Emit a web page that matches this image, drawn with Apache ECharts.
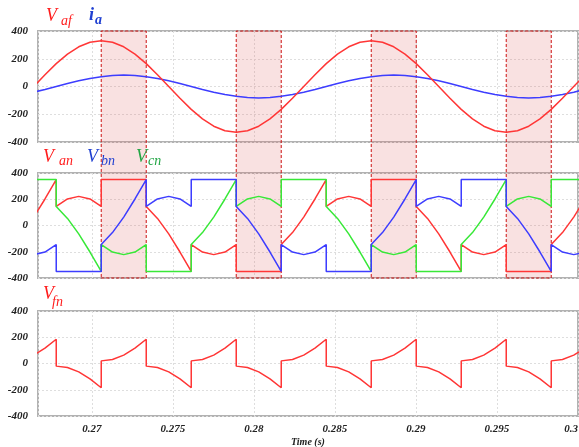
<!DOCTYPE html>
<html>
<head>
<meta charset="utf-8">
<script src="https://cdn.jsdelivr.net/npm/echarts@6/dist/echarts.min.js"></script>
<style>
html,body{margin:0;padding:0;background:#fff;}
#chart{width:579px;height:447px;}
</style>
</head>
<body>
<div id="chart"></div>
<script>
// Sample times (s); sector boundaries appear twice to draw the vertical switching edges
const timeS = [
  0.265014, 0.265709, 0.266403, 0.267098, 0.267792,
  0.267792, 0.268487, 0.269181, 0.269876, 0.27057,
  0.27057, 0.271264, 0.271959, 0.272653, 0.273348,
  0.273348, 0.274042, 0.274737, 0.275431, 0.276126,
  0.276126, 0.27682, 0.277514, 0.278209, 0.278903,
  0.278903, 0.279598, 0.280292, 0.280987, 0.281681,
  0.281681, 0.282376, 0.28307, 0.283764, 0.284459,
  0.284459, 0.285153, 0.285848, 0.286542, 0.287237,
  0.287237, 0.287931, 0.288626, 0.28932, 0.290014,
  0.290014, 0.290709, 0.291403, 0.292098, 0.292792,
  0.292792, 0.293487, 0.294181, 0.294876, 0.29557,
  0.29557, 0.296264, 0.296959, 0.297653, 0.298348,
  0.298348, 0.299042, 0.299737, 0.300431, 0.301126
];
const vaf = [
  -165, -85, 0, 85, 165,
  165, 233, 286, 319, 330,
  330, 319, 286, 233, 165,
  165, 85, 0, -85, -165,
  -165, -233, -286, -319, -330,
  -330, -319, -286, -233, -165,
  -165, -85, 0, 85, 165,
  165, 233, 286, 319, 330,
  330, 319, 286, 233, 165,
  165, 85, 0, -85, -165,
  -165, -233, -286, -319, -330,
  -330, -319, -286, -233, -165,
  -165, -85, 0, 85, 165
];
const ia = [
  -71, -58, -41, -21, 0,
  0, 21, 41, 58, 71,
  71, 79, 82, 79, 71,
  71, 58, 41, 21, 0,
  0, -21, -41, -58, -71,
  -71, -79, -82, -79, -71,
  -71, -58, -41, -21, 0,
  0, 21, 41, 58, 71,
  71, 79, 82, 79, 71,
  71, 58, 41, 21, 0,
  0, -21, -41, -58, -71,
  -71, -79, -82, -79, -71,
  -71, -58, -41, -21, 0
];
const van = [
  -145, -54, 64, 202, 350,
  145, 202, 222, 202, 145,
  350, 350, 350, 350, 350,
  145, 54, -64, -202, -350,
  -145, -202, -222, -202, -145,
  -350, -350, -350, -350, -350,
  -145, -54, 64, 202, 350,
  145, 202, 222, 202, 145,
  350, 350, 350, 350, 350,
  145, 54, -64, -202, -350,
  -145, -202, -222, -202, -145,
  -350, -350, -350, -350, -350,
  -145, -54, 64, 202, 350
];
const vbn = [
  -145, -202, -222, -202, -145,
  -350, -350, -350, -350, -350,
  -145, -54, 64, 202, 350,
  145, 202, 222, 202, 145,
  350, 350, 350, 350, 350,
  145, 54, -64, -202, -350,
  -145, -202, -222, -202, -145,
  -350, -350, -350, -350, -350,
  -145, -54, 64, 202, 350,
  145, 202, 222, 202, 145,
  350, 350, 350, 350, 350,
  145, 54, -64, -202, -350,
  -145, -202, -222, -202, -145
];
const vcn = [
  350, 350, 350, 350, 350,
  145, 54, -64, -202, -350,
  -145, -202, -222, -202, -145,
  -350, -350, -350, -350, -350,
  -145, -54, 64, 202, 350,
  145, 202, 222, 202, 145,
  350, 350, 350, 350, 350,
  145, 54, -64, -202, -350,
  -145, -202, -222, -202, -145,
  -350, -350, -350, -350, -350,
  -145, -54, 64, 202, 350,
  145, 202, 222, 202, 145,
  350, 350, 350, 350, 350
];
const vfn = [
  20, 31, 64, 117, 185,
  -20, -31, -64, -117, -185,
  20, 31, 64, 117, 185,
  -20, -31, -64, -117, -185,
  20, 31, 64, 117, 185,
  -20, -31, -64, -117, -185,
  20, 31, 64, 117, 185,
  -20, -31, -64, -117, -185,
  20, 31, 64, 117, 185,
  -20, -31, -64, -117, -185,
  20, 31, 64, 117, 185,
  -20, -31, -64, -117, -185,
  20, 31, 64, 117, 185
];
// Highlighted intervals (s)
const hlStart = [0.27057, 0.278903, 0.287237, 0.29557];
const hlEnd   = [0.273348, 0.281681, 0.290014, 0.298348];

const xMin = 0.266667, xMax = 0.3;
const RED = '#ff3636', BLUE = '#3d3dff', GREEN = '#38e838';
const SERIF = '"Liberation Serif", "DejaVu Serif", serif';

const pairs = arr => timeS.map((t, i) => [t, arr[i]]);

const chart = echarts.init(document.getElementById('chart'), null, {renderer: 'canvas'});

const grids = [
  {left: 38, right: 1, top: 31, height: 111},
  {left: 38, right: 1, top: 173, height: 105},
  {left: 38, right: 1, top: 311, height: 105},
  {left: 38, right: 1, top: 31, height: 247}
].map((g, i) => Object.assign({
  show: i < 3, borderColor: '#b2b2b2', borderWidth: 2, backgroundColor: 'transparent',
  containLabel: false, outerBoundsMode: 'none'
}, g));

function xAx(i) {
  return {
    type: 'value', gridIndex: i, min: xMin, max: xMax, splitNumber: 7,
    show: i < 3,
    axisLine: {show: false}, axisTick: {show: false},
    axisLabel: {
      show: i === 2, showMinLabel: false, alignMaxLabel: 'right', margin: 8,
      fontFamily: SERIF, fontStyle: 'italic', fontWeight: 'bold', fontSize: 11, color: '#222'
    },
    splitLine: {show: i < 3, lineStyle: {color: '#dedede', type: [2, 2], width: 1}},
    name: i === 2 ? 'Time (s)' : '',
    nameLocation: 'middle', nameGap: 21,
    nameTextStyle: {fontFamily: SERIF, fontStyle: 'italic', fontWeight: 'bold', fontSize: 10, color: '#222'}
  };
}
function yAx(i) {
  if (i === 3) return {type: 'value', gridIndex: 3, min: 0, max: 1, show: false};
  return {
    type: 'value', gridIndex: i, min: -400, max: 400, interval: 200,
    axisLine: {show: false}, axisTick: {show: false},
    axisLabel: {margin: 10, fontFamily: SERIF, fontStyle: 'italic', fontWeight: 'bold', fontSize: 11, color: '#222'},
    splitLine: {show: true, lineStyle: {color: '#dedede', type: [2, 2], width: 1}}
  };
}

function line(name, data, color, gi) {
  return {
    name, type: 'line', xAxisIndex: gi, yAxisIndex: gi, data: pairs(data),
    showSymbol: false, symbol: 'none', z: 5, animation: false,
    lineStyle: {color, width: 1.5}
  };
}

function label(text, x, y, size, color, bold) {
  return {
    type: 'text', left: x, top: y, z: 20,
    style: {
      text, fill: color,
      font: (bold ? 'italic bold ' : 'italic ') + size + 'px ' + SERIF
    }
  };
}

const option = {
  animation: false,
  grid: grids,
  xAxis: [0, 1, 2, 3].map(xAx),
  yAxis: [0, 1, 2, 3].map(yAx),
  series: [
    {
      type: 'line', xAxisIndex: 3, yAxisIndex: 3, data: [[hlStart[0], 0.5]],
      symbol: 'none', lineStyle: {opacity: 0}, z: 1, silent: true,
      markArea: {
        silent: true,
        itemStyle: {color: 'rgba(222,90,90,0.18)', borderColor: '#cc1111', borderWidth: 1, borderType: [3, 2]},
        data: hlStart.map((s, i) => [{xAxis: s}, {xAxis: hlEnd[i]}])
      }
    },
    line('ia', ia, BLUE, 0),
    line('Vaf', vaf, RED, 0),
    line('Van', van, RED, 1),
    line('Vcn', vcn, GREEN, 1),
    line('Vbn', vbn, BLUE, 1),
    line('Vfn', vfn, RED, 2)
  ],
  graphic: [
    label('V', 46, 7, 18, '#ff1c1c', false),
    label('af', 61, 14, 14, '#ff1c1c', false),
    label('i', 89, 6, 18, '#1f3fd1', true),
    label('a', 95, 13, 14, '#1f3fd1', true),
    label('V', 43, 148, 18, '#ff1c1c', false),
    label('an', 59, 154, 14, '#ff1c1c', false),
    label('V', 87, 148, 18, '#1f3fd1', false),
    label('bn', 101, 154, 14, '#1f3fd1', false),
    label('V', 136, 148, 18, '#22a645', false),
    label('cn', 148, 154, 14, '#22a645', false),
    label('V', 43, 285, 18, '#ff1c1c', false),
    label('fn', 52, 295, 14, '#ff1c1c', false)
  ]
};
chart.setOption(option);
</script>
</body>
</html>
